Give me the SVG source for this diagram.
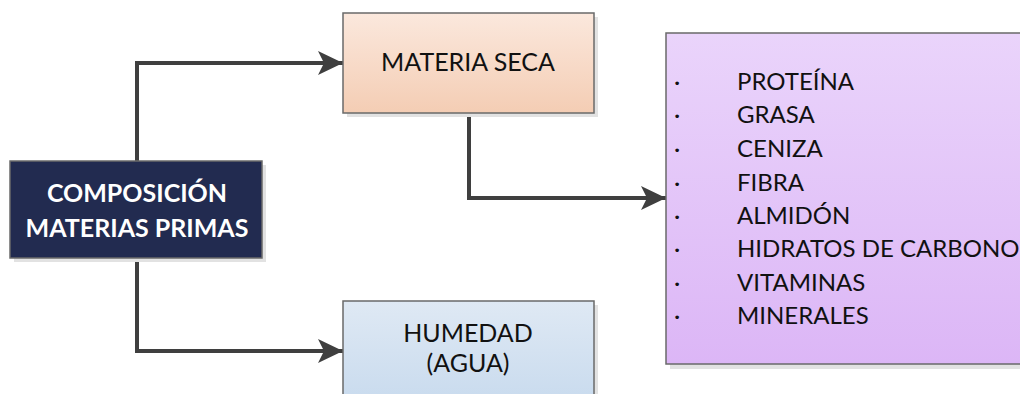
<svg xmlns="http://www.w3.org/2000/svg" width="1020" height="394" viewBox="0 0 1020 394">
<style>
.box{stroke:#6a6a6a;stroke-width:1.5}
.shadow{fill:#e2e2e2}
.t{font-family:Lato,"Noto Sans",sans-serif;font-size:25px;fill:#111111}
.tl{font-size:24px}
.tc{text-anchor:middle}
.tw{font-family:Lato,"Noto Sans",sans-serif;font-size:25px;font-weight:bold;fill:#ffffff;text-anchor:middle}
.conn{fill:none;stroke:#3f3f3f;stroke-width:4;stroke-linejoin:miter}
</style>
<defs>
<linearGradient id="gPeach" x1="0" y1="0" x2="0" y2="1"><stop offset="0" stop-color="#fbe8dd"/><stop offset="1" stop-color="#f4cdb4"/></linearGradient>
<linearGradient id="gBlue" x1="0" y1="0" x2="0" y2="1"><stop offset="0" stop-color="#dfe9f4"/><stop offset="1" stop-color="#c9dbee"/></linearGradient>
<linearGradient id="gPurple" x1="0" y1="0" x2="0" y2="1"><stop offset="0" stop-color="#ead4fb"/><stop offset="1" stop-color="#dcb6f6"/></linearGradient>
<marker id="arr" viewBox="0 0 25 24" refX="25" refY="12" markerWidth="25" markerHeight="24" markerUnits="userSpaceOnUse" orient="auto"><path d="M0,0 L25,12 L0,24 L6,12 Z" fill="#3f3f3f"/></marker>
</defs>
<g id="connectors">
<path class="conn" d="M137,161 V63 H343" marker-end="url(#arr)"/>
<path class="conn" d="M137,258 V351 H343" marker-end="url(#arr)"/>
<path class="conn" d="M469,113 V198 H666" marker-end="url(#arr)"/>
</g>
<g id="composicion">
<rect class="shadow" x="14" y="165" width="252" height="97"/>
<rect class="box" x="10" y="161" width="252" height="97" fill="#222b50"/>
<text class="tw" x="137" y="202">COMPOSICIÓN</text>
<text class="tw" x="137" y="237">MATERIAS PRIMAS</text>
</g>
<g id="materia-seca">
<rect class="shadow" x="347" y="17" width="251" height="100"/>
<rect class="box" x="343" y="13" width="251" height="100" fill="url(#gPeach)"/>
<text class="t tc" x="468" y="71">MATERIA SECA</text>
</g>
<g id="humedad">
<rect class="shadow" x="347" y="305" width="251" height="100"/>
<rect class="box" x="343" y="301" width="251" height="100" fill="url(#gBlue)"/>
<text class="t tc" x="468" y="342">HUMEDAD</text>
<text class="t tc" x="468" y="372">(AGUA)</text>
</g>
<g id="componentes">
<rect class="shadow" x="670" y="37" width="360" height="332"/>
<rect class="box" x="666" y="33" width="360" height="331" fill="url(#gPurple)"/>
<g class="t tl">
<text x="674" y="90">·</text><text x="737" y="90">PROTEÍNA</text>
<text x="674" y="123">·</text><text x="737" y="123">GRASA</text>
<text x="674" y="157">·</text><text x="737" y="157">CENIZA</text>
<text x="674" y="191">·</text><text x="737" y="191">FIBRA</text>
<text x="674" y="224">·</text><text x="737" y="224">ALMIDÓN</text>
<text x="674" y="257">·</text><text x="737" y="257">HIDRATOS DE CARBONO</text>
<text x="674" y="291">·</text><text x="737" y="291">VITAMINAS</text>
<text x="674" y="324">·</text><text x="737" y="324">MINERALES</text>
</g>
</g>
</svg>
